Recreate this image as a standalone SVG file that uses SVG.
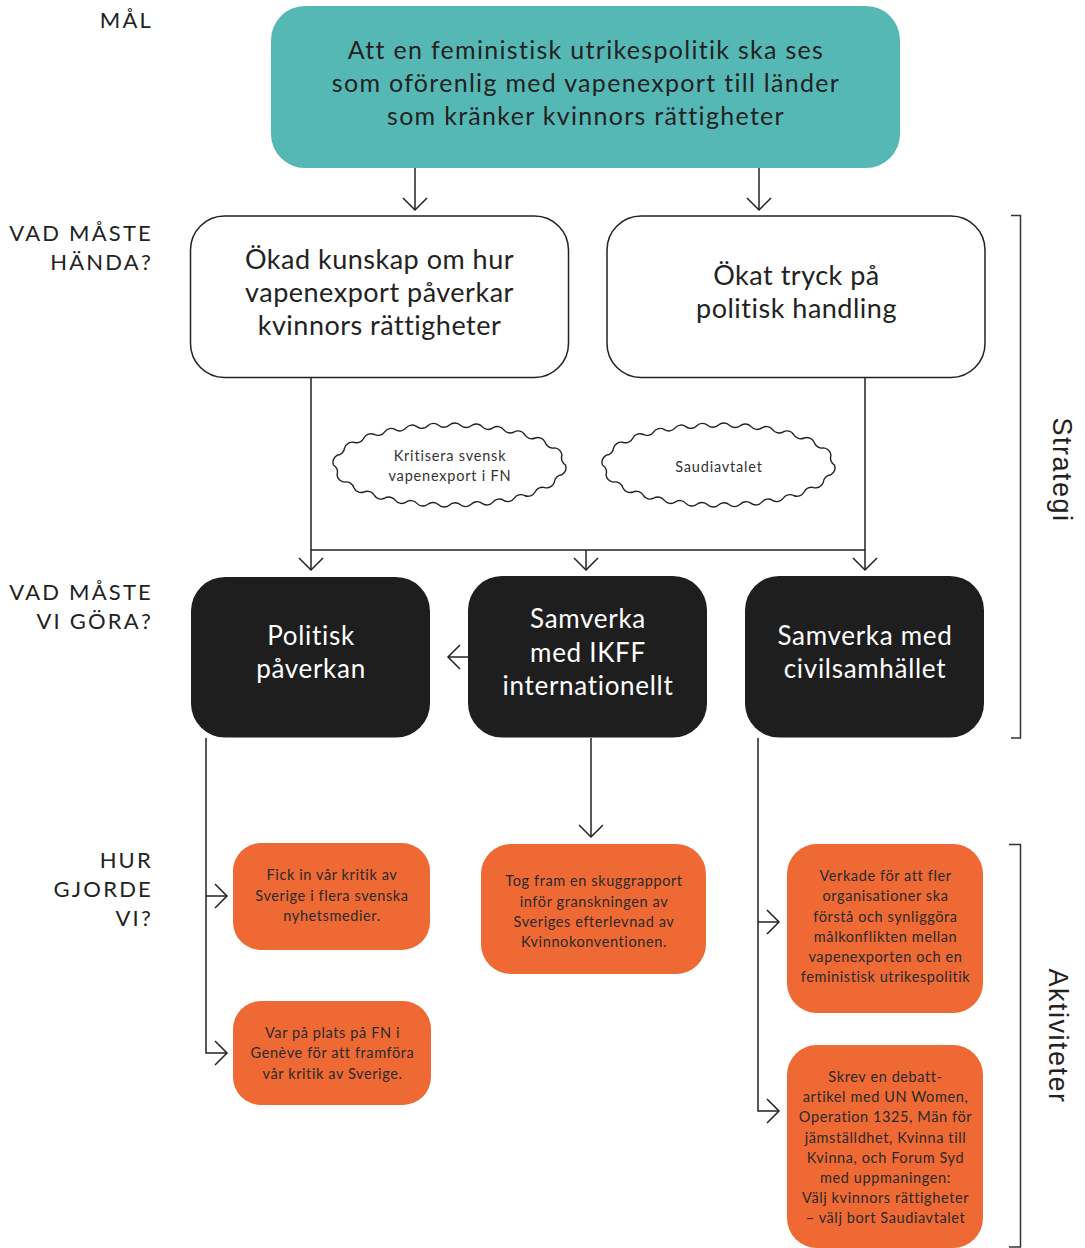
<svg xmlns="http://www.w3.org/2000/svg" width="1085" height="1248" viewBox="0 0 1085 1248">
<style>
  text { font-family: Lato, "Noto Sans", "Liberation Sans", sans-serif; fill: #222; }
  .lbl { font-size: 22px; text-anchor: end; letter-spacing: 2.2px; }
  .goal { font-size: 25px; text-anchor: middle; letter-spacing: 1.3px; }
  .need { font-size: 27px; text-anchor: middle; letter-spacing: 0.5px; }
  .act { font-size: 26px; text-anchor: middle; fill: #fff; letter-spacing: 0.7px; }
  .org { font-size: 14.5px; text-anchor: middle; fill: #2a2a2a; letter-spacing: 0.6px; }
  .cld { font-size: 14.5px; text-anchor: middle; fill: #333; letter-spacing: 0.8px; }
  .side { font-family: "Liberation Sans", Arial, sans-serif; font-size: 27px; text-anchor: middle; letter-spacing: 1.5px; fill: #222; }
  .box-w { fill: #fff; stroke: #222; stroke-width: 1.5; }
  .box-b { fill: #1e1e1e; }
  .box-o { fill: #ee6933; }
  .box-t { fill: #56b8b4; }
  .cloud { fill: #fff; stroke: #222; stroke-width: 1.4; }
  .con { fill: none; stroke: #222; stroke-width: 1.5; }
  .br { fill: none; stroke: #333; stroke-width: 1.5; }
</style>
<defs>
  <marker id="arr" markerUnits="userSpaceOnUse" markerWidth="30" markerHeight="30" refX="0" refY="0" viewBox="-15 -15 30 30" orient="auto" overflow="visible">
    <path d="M-12,-12 L0,0 L-12,12" fill="none" stroke="#222" stroke-width="1.5"/>
  </marker>
  <path id="cloudShape" d="M116,0 A8 8 0 0 1 112.5,9.7 A8 8 0 0 0 104.9,17.1 A8 8 0 0 1 95.6,22.7 A8 8 0 0 0 85.6,27 A8 8 0 0 1 75.1,30.5 A8 8 0 0 0 64.8,33.2 A8 8 0 0 1 54.1,35.4 A8 8 0 0 0 43.4,37.1 A8 8 0 0 1 32.6,38.4 A8 8 0 0 0 21.7,39.3 A8 8 0 0 1 10.9,39.8 A8 8 0 0 0 0,40 A8 8 0 0 1 -10.9,39.8 A8 8 0 0 0 -21.7,39.3 A8 8 0 0 1 -32.6,38.4 A8 8 0 0 0 -43.4,37.1 A8 8 0 0 1 -54.1,35.4 A8 8 0 0 0 -64.8,33.2 A8 8 0 0 1 -75.1,30.5 A8 8 0 0 0 -85.6,27 A8 8 0 0 1 -95.6,22.7 A8 8 0 0 0 -104.9,17.1 A8 8 0 0 1 -112.5,9.7 A8 8 0 0 0 -116,0 A8 8 0 0 1 -112.5,-9.7 A8 8 0 0 0 -104.9,-17.1 A8 8 0 0 1 -95.6,-22.7 A8 8 0 0 0 -85.6,-27 A8 8 0 0 1 -75.1,-30.5 A8 8 0 0 0 -64.8,-33.2 A8 8 0 0 1 -54.1,-35.4 A8 8 0 0 0 -43.4,-37.1 A8 8 0 0 1 -32.6,-38.4 A8 8 0 0 0 -21.7,-39.3 A8 8 0 0 1 -10.9,-39.8 A8 8 0 0 0 0,-40 A8 8 0 0 1 10.9,-39.8 A8 8 0 0 0 21.7,-39.3 A8 8 0 0 1 32.6,-38.4 A8 8 0 0 0 43.4,-37.1 A8 8 0 0 1 54.1,-35.4 A8 8 0 0 0 64.8,-33.2 A8 8 0 0 1 75.1,-30.5 A8 8 0 0 0 85.6,-27 A8 8 0 0 1 95.6,-22.7 A8 8 0 0 0 104.9,-17.1 A8 8 0 0 1 112.5,-9.7 A8 8 0 0 0 116,0 Z"/>
</defs>

<rect width="1085" height="1248" fill="#fff"/>

<!-- row labels -->
<g id="labels">
  <text class="lbl" x="153" y="28">MÅL</text>
  <text class="lbl" x="153" y="241">VAD MÅSTE</text>
  <text class="lbl" x="153" y="270">HÄNDA?</text>
  <text class="lbl" x="153" y="600">VAD MÅSTE</text>
  <text class="lbl" x="153" y="629">VI GÖRA?</text>
  <text class="lbl" x="153" y="868">HUR</text>
  <text class="lbl" x="153" y="897">GJORDE</text>
  <text class="lbl" x="153" y="926">VI?</text>
</g>

<!-- connectors -->
<g id="connectors">
  <path class="con" d="M415,168 V210" marker-end="url(#arr)"/>
  <path class="con" d="M759,168 V210" marker-end="url(#arr)"/>
  <path class="con" d="M311,378 V570" marker-end="url(#arr)"/>
  <path class="con" d="M865,378 V570" marker-end="url(#arr)"/>
  <path class="con" d="M311,550 H865"/>
  <path class="con" d="M586,550 V570" marker-end="url(#arr)"/>
  <path class="con" d="M468,657 H448" marker-end="url(#arr)"/>
  <path class="con" d="M206,738 V1053 H227" marker-end="url(#arr)"/>
  <path class="con" d="M206,896 H227" marker-end="url(#arr)"/>
  <path class="con" d="M591,738 V837" marker-end="url(#arr)"/>
  <path class="con" d="M758,738 V1111 H779" marker-end="url(#arr)"/>
  <path class="con" d="M758,922 H779" marker-end="url(#arr)"/>
</g>

<!-- goal -->
<g id="goal">
  <rect class="box-t" x="271" y="6" width="629" height="162" rx="34"/>
  <text class="goal" x="586" y="59">Att en feministisk utrikespolitik ska ses</text>
  <text class="goal" x="586" y="92">som oförenlig med vapenexport till länder</text>
  <text class="goal" x="586" y="125">som kränker kvinnors rättigheter</text>
</g>

<!-- what must happen -->
<g id="need-knowledge">
  <rect class="box-w" x="190.5" y="216" width="378" height="161.5" rx="34"/>
  <text class="need" x="379.5" y="269">Ökad kunskap om hur</text>
  <text class="need" x="379.5" y="302">vapenexport påverkar</text>
  <text class="need" x="379.5" y="335">kvinnors rättigheter</text>
</g>
<g id="need-pressure">
  <rect class="box-w" x="607" y="216" width="378" height="161.5" rx="34"/>
  <text class="need" x="796.5" y="285">Ökat tryck på</text>
  <text class="need" x="796.5" y="318">politisk handling</text>
</g>

<!-- clouds -->
<g id="cloud-fn">
  <use href="#cloudShape" class="cloud" transform="translate(449.5,465)"/>
  <text class="cld" x="450" y="461">Kritisera svensk</text>
  <text class="cld" x="450" y="481">vapenexport i FN</text>
</g>
<g id="cloud-saudi">
  <use href="#cloudShape" class="cloud" transform="translate(718.5,465)"/>
  <text class="cld" x="719" y="472">Saudiavtalet</text>
</g>

<!-- what must we do -->
<g id="do-politics">
  <rect class="box-b" x="191" y="577" width="239" height="160.5" rx="34"/>
  <text class="act" x="311" y="645">Politisk</text>
  <text class="act" x="311" y="678">påverkan</text>
</g>
<g id="do-ikff">
  <rect class="box-b" x="468" y="576" width="239" height="161.5" rx="34"/>
  <text class="act" x="588" y="628">Samverka</text>
  <text class="act" x="588" y="662">med IKFF</text>
  <text class="act" x="588" y="695">internationellt</text>
</g>
<g id="do-civil">
  <rect class="box-b" x="745" y="576" width="239" height="161.5" rx="34"/>
  <text class="act" x="865" y="645">Samverka med</text>
  <text class="act" x="865" y="678">civilsamhället</text>
</g>

<!-- activities -->
<g id="act-media">
  <rect class="box-o" x="233" y="843" width="197" height="107" rx="28"/>
  <text class="org" x="332" y="880">Fick in vår kritik av</text>
  <text class="org" x="332" y="901">Sverige i flera svenska</text>
  <text class="org" x="332" y="921">nyhetsmedier.</text>
</g>
<g id="act-geneve">
  <rect class="box-o" x="233" y="1001" width="198" height="104" rx="28"/>
  <text class="org" x="332.5" y="1038">Var på plats på FN i</text>
  <text class="org" x="332.5" y="1058">Genève för att framföra</text>
  <text class="org" x="332.5" y="1079">vår kritik av Sverige.</text>
</g>
<g id="act-shadow">
  <rect class="box-o" x="481" y="844" width="225" height="130" rx="30"/>
  <text class="org" x="594" y="886">Tog fram en skuggrapport</text>
  <text class="org" x="594" y="907">inför granskningen av</text>
  <text class="org" x="594" y="927">Sveriges efterlevnad av</text>
  <text class="org" x="594" y="947">Kvinnokonventionen.</text>
</g>
<g id="act-orgs">
  <rect class="box-o" x="787" y="844" width="196" height="169" rx="30"/>
  <text class="org" x="885.5" y="881">Verkade för att fler</text>
  <text class="org" x="885.5" y="901">organisationer ska</text>
  <text class="org" x="885.5" y="922">förstå och synliggöra</text>
  <text class="org" x="885.5" y="942">målkonflikten mellan</text>
  <text class="org" x="885.5" y="962">vapenexporten och en</text>
  <text class="org" x="885.5" y="982">feministisk utrikespolitik</text>
</g>
<g id="act-debate">
  <rect class="box-o" x="787" y="1045" width="196" height="203" rx="30"/>
  <text class="org" x="885.5" y="1082">Skrev en debatt-</text>
  <text class="org" x="885.5" y="1102">artikel med UN Women,</text>
  <text class="org" x="885.5" y="1122">Operation 1325, Män för</text>
  <text class="org" x="885.5" y="1143">jämställdhet, Kvinna till</text>
  <text class="org" x="885.5" y="1163">Kvinna, och Forum Syd</text>
  <text class="org" x="885.5" y="1183">med uppmaningen:</text>
  <text class="org" x="885.5" y="1203">Välj kvinnors rättigheter</text>
  <text class="org" x="885.5" y="1223">– välj bort Saudiavtalet</text>
</g>

<!-- brackets -->
<g id="bracket-strategi">
  <path class="br" d="M1011,215.5 H1020.5 V738 H1011"/>
  <text class="side" transform="translate(1053,470) rotate(90)" x="0" y="0">Strategi</text>
</g>
<g id="bracket-aktiviteter">
  <path class="br" d="M1009,844.5 H1020.5 V1247 H1009"/>
  <text class="side" transform="translate(1049,1036) rotate(90)" x="0" y="0">Aktiviteter</text>
</g>
</svg>
